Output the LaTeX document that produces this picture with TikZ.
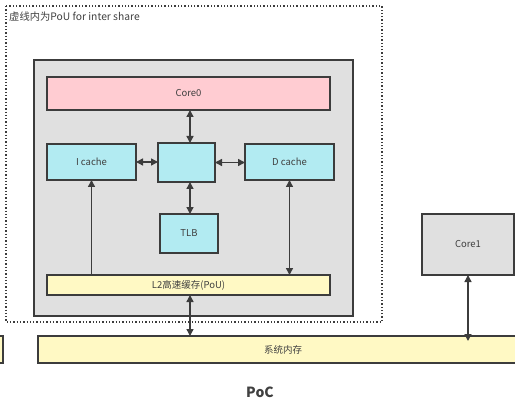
\documentclass[tikz,border=0pt]{standalone}
\usepackage{fontspec}
\setmainfont{Noto Sans CJK SC}
\usetikzlibrary{arrows.meta}
\definecolor{linec}{HTML}{3C3C3C}
\definecolor{textc}{HTML}{404040}
\definecolor{boxgray}{HTML}{E0E0E0}
\definecolor{corepink}{HTML}{FFCCD2}
\definecolor{cachecyan}{HTML}{B2EBF2}
\definecolor{memyellow}{HTML}{FFF9C4}
\tikzset{
  blk/.style={draw=linec, line width=1.4pt, anchor=north west, inner sep=0pt, outer sep=0pt,
    text=textc, font=\fontsize{9.5}{11}\selectfont},
  link/.style={draw=linec, line width=1.4pt, -{Triangle[length=7pt,width=7pt]}},
  biglink/.style={draw=linec, line width=1.4pt, {Triangle[length=7pt,width=7pt]}-{Triangle[length=7pt,width=7pt]}}
}
\begin{document}
\begin{tikzpicture}[x=1pt, y=-1pt]
			%%%%% START %%%%%
			\useasboundingbox (0, 0) rectangle (515, 404);
			
			\draw[linec, line width=1.3pt, dotted] (6, 6) rectangle (382, 322);
			\node[anchor=north west, inner sep=0pt, text=textc, font=\fontsize{10.3}{12}\selectfont] (title) at (9, 12) {虚线内为PoU for inter share};
			
			\node[blk, fill=boxgray, minimum width=319, minimum height=256] (core) at (34, 60) {};
			
			\node[blk, fill=corepink, minimum width=283, minimum height=33] (core0) at (47, 77) {Core0};
			\node[blk, fill=cachecyan, minimum width=89, minimum height=36] (icache) at (47, 144) {I cache};
			\node[blk, fill=cachecyan, minimum width=57, minimum height=39] (mid) at (158, 143) {};
			\node[blk, fill=cachecyan, minimum width=89, minimum height=36] (dcache) at (245, 144) {D cache};
			\node[blk, fill=cachecyan, minimum width=58, minimum height=39] (tlb) at (160, 214) {TLB};
			\node[blk, fill=memyellow, minimum width=283, minimum height=20] (l2) at (47, 275) {L2高速缓存(PoU)};
			
			\node[blk, fill=boxgray, minimum width=92, minimum height=61] (core1) at (422, 214) {Core1};
			\node[blk, fill=memyellow, minimum width=490, minimum height=27] (mem) at (38, 336) {系统内存};
			\node[blk, fill=memyellow, minimum width=16, minimum height=27] (edge) at (-13, 336) {};
			
			\draw[biglink] ([xshift=1.5]core0.south) -- ([xshift=1.5]core0.south |- mid.north);
			\draw[biglink] ([xshift=1.5]core0.south |- mid.south) -- ([xshift=1.5]core0.south |- tlb.north);
			\draw[biglink] (icache.east) -- (icache.east -| mid.west);
			\draw[biglink] (mid.east) -- (mid.east -| dcache.west);
			\draw[link] (icache.south |- l2.north) -- (icache.south);
			\draw[biglink] (dcache.south) -- (dcache.south |- l2.north);
			\draw[biglink] ([xshift=1.5]core0.south |- l2.south) -- ([xshift=1.5]core0.south |- mem.north);
			\draw[biglink] (core1.south) -- ([yshift=-5]core1.south |- mem.north);
			
			\node[font=\fontsize{14}{16}\selectfont\bfseries, text=textc] (poc) at (260, 392) {PoC};
			
			%%%%% END %%%%%
\end{tikzpicture}
\end{document}
